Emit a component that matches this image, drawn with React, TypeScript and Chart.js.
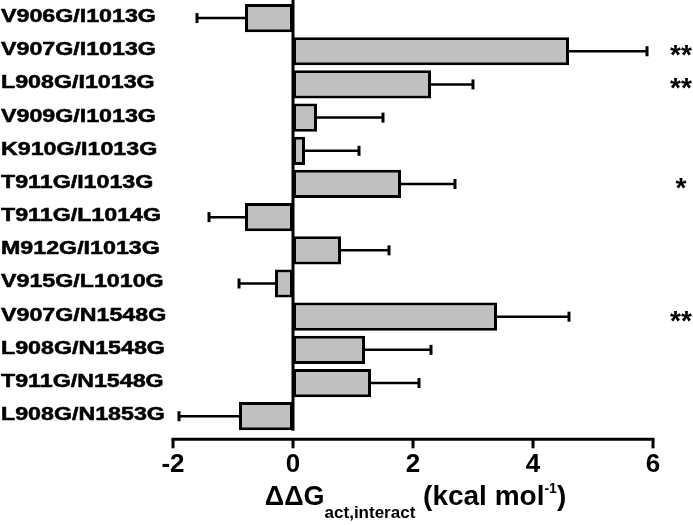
import { useEffect, useRef } from "react";
import { Chart, registerables } from "chart.js";

Chart.register(...registerables);

const categories = [
  "V906G/I1013G",
  "V907G/I1013G",
  "L908G/I1013G",
  "V909G/I1013G",
  "K910G/I1013G",
  "T911G/I1013G",
  "T911G/L1014G",
  "M912G/I1013G",
  "V915G/L1010G",
  "V907G/N1548G",
  "L908G/N1548G",
  "T911G/N1548G",
  "L908G/N1853G",
];
const values = [-0.8, 4.6, 2.3, 0.4, 0.2, 1.8, -0.8, 0.8, -0.3, 3.4, 1.2, 1.3, -0.9];
const errors = [0.8, 1.3, 0.7, 1.1, 0.9, 0.9, 0.6, 0.8, 0.6, 1.2, 1.1, 0.8, 1.0];
const significance = ["", "**", "**", "", "", "*", "", "", "", "**", "", "", ""];
const xMin = -2;
const xMax = 6;
const xStep = 2;

const FONT = '"Liberation Sans", Arial, sans-serif';

const customPlugin = {
  id: "custom",
  afterDatasetsDraw(chart: any) {
    const ctx = chart.ctx;
    const xs = chart.scales.x;
    const ys = chart.scales.y;
    const area = chart.chartArea;
    ctx.save();
    ctx.strokeStyle = "#000";
    // zero line
    ctx.lineWidth = 3;
    const zx = xs.getPixelForValue(0);
    ctx.beginPath();
    ctx.moveTo(zx, 0);
    ctx.lineTo(zx, area.bottom - 2);
    ctx.stroke();
    // error bars
    values.forEach((v, i) => {
      const y = ys.getPixelForValue(i);
      const end = v >= 0 ? v + errors[i] : v - errors[i];
      const x0 = xs.getPixelForValue(v);
      const x1 = xs.getPixelForValue(end);
      ctx.lineWidth = 2.5;
      ctx.beginPath();
      ctx.moveTo(x0, y);
      ctx.lineTo(x1, y);
      ctx.stroke();
      ctx.lineWidth = 3;
      ctx.beginPath();
      ctx.moveTo(x1, y - 5);
      ctx.lineTo(x1, y + 5);
      ctx.stroke();
    });
    ctx.restore();
  },
  afterDraw(chart: any) {
    const ctx = chart.ctx;
    const xs = chart.scales.x;
    const ys = chart.scales.y;
    const area = chart.chartArea;
    ctx.save();
    // category labels
    ctx.fillStyle = "#000";
    ctx.strokeStyle = "#000";
    ctx.font = `bold 18px ${FONT}`;
    ctx.textBaseline = "middle";
    ctx.textAlign = "left";
    categories.forEach((c, i) => {
      const y = ys.getPixelForValue(i) - 1;
      ctx.save();
      ctx.translate(1, y);
      ctx.scale(1.29, 1);
      ctx.fillText(c, 0, 0);
      ctx.lineWidth = 0.5;
      ctx.strokeText(c, 0, 0);
      ctx.restore();
    });
    // significance marks
    ctx.font = `bold 28px ${FONT}`;
    ctx.textAlign = "center";
    ctx.textBaseline = "alphabetic";
    significance.forEach((s, i) => {
      if (!s) return;
      const y = ys.getPixelForValue(i);
      ctx.fillText(s, 681, y + 13);
    });
    // x axis line offset below the plot
    const ay = area.bottom + 6.5;
    ctx.strokeStyle = "#000";
    ctx.lineWidth = 3;
    ctx.beginPath();
    ctx.moveTo(xs.getPixelForValue(xMin) - 1.5, ay);
    ctx.lineTo(xs.getPixelForValue(xMax) + 1.5, ay);
    ctx.stroke();
    for (let t = xMin; t <= xMax; t += xStep) {
      const x = xs.getPixelForValue(t);
      ctx.beginPath();
      ctx.moveTo(x, ay);
      ctx.lineTo(x, ay + 9);
      ctx.stroke();
    }
    // axis title with sub/superscripts
    const parts = [
      { t: "\u0394\u0394G", f: `bold 27px ${FONT}`, dy: 0 },
      { t: "act,interact", f: `bold 17px ${FONT}`, dy: 13 },
      { t: " (kcal mol", f: `bold 28px ${FONT}`, dy: 0 },
      { t: "-1", f: `bold 14px ${FONT}`, dy: -12 },
      { t: ")", f: `bold 28px ${FONT}`, dy: 0 },
    ];
    let total = 0;
    const widths = parts.map((p) => {
      ctx.font = p.f;
      const w = ctx.measureText(p.t).width;
      total += w;
      return w;
    });
    let x = 415.5 - total / 2;
    const base = 505;
    ctx.textAlign = "left";
    parts.forEach((p, i) => {
      ctx.font = p.f;
      ctx.fillText(p.t, x, base + p.dy);
      x += widths[i];
    });
    ctx.restore();
  },
};

export default function App() {
  const ref = useRef<HTMLCanvasElement | null>(null);
  useEffect(() => {
    if (!ref.current) return;
    const chart = new Chart(ref.current, {
      type: "bar",
      data: {
        labels: categories,
        datasets: [
          {
            data: values,
            backgroundColor: "#c0c0c0",
            borderColor: "#000000",
            borderWidth: 3,
            borderSkipped: false,
            barPercentage: 0.85,
            categoryPercentage: 1,
          },
        ],
      },
      options: {
        indexAxis: "y",
        animation: false,
        responsive: false,
        maintainAspectRatio: false,
        layout: { padding: { left: 173, right: 40, top: 1.5, bottom: 29 } },
        plugins: { legend: { display: false }, tooltip: { enabled: false }, title: { display: false } },
        scales: {
          x: {
            type: "linear",
            min: xMin,
            max: xMax,
            ticks: {
              stepSize: xStep,
              color: "#000",
              font: { family: FONT, size: 26, weight: "bold" },
              padding: 16,
            },
            grid: { display: false, drawTicks: false },
            border: { display: false },
          },
          y: {
            type: "category",
            display: false,
          },
        },
      },
      plugins: [customPlugin],
    });
    return () => chart.destroy();
  }, []);
  return (
    <div style={{ position: "absolute", left: 0, top: 0, width: 693, height: 525, background: "#fff" }}>
      <canvas ref={ref} width={693} height={525} style={{ display: "block", width: 693, height: 525 }} />
    </div>
  );
}
